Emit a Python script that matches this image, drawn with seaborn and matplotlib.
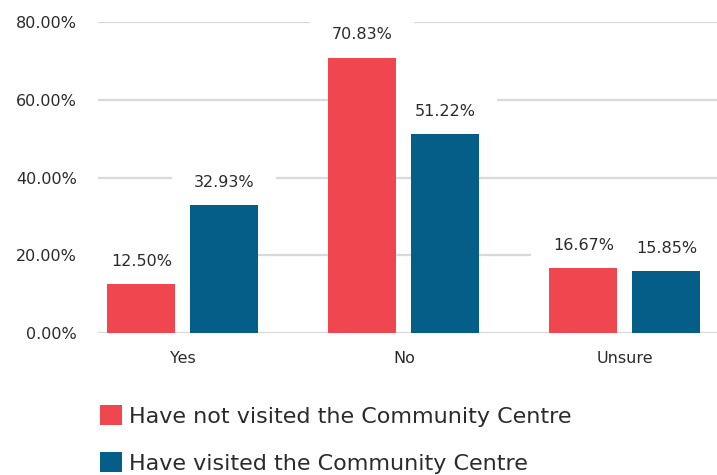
import matplotlib
matplotlib.use("Agg")
import matplotlib.pyplot as plt
import seaborn as sns
import pandas as pd
from matplotlib.ticker import FuncFormatter

categories = ["Yes", "No", "Unsure"]
series_names = ["Have not visited the Community Centre", "Have visited the Community Centre"]
not_visited = [12.50, 70.83, 16.67]
visited = [32.93, 51.22, 15.85]
y_ticks = [0, 20, 40, 60, 80]

colors = ["#EF4650", "#045E87"]
text_color = "#2b2b2b"
grid_color = "#d9d9d9"

df = pd.DataFrame({
    "category": categories * 2,
    "value": not_visited + visited,
    "series": [series_names[0]] * 3 + [series_names[1]] * 3,
})

sns.set_theme(style="white")
plt.rcParams["font.family"] = ["DejaVu Sans"]
plt.rcParams["text.color"] = text_color

fig = plt.figure(figsize=(7.17, 4.75), dpi=100)
ax = fig.add_axes([98 / 717, 142 / 475, 619 / 717, 311 / 475])

sns.barplot(data=df, x="category", y="value", hue="series", order=categories,
            hue_order=series_names, palette=colors, width=0.751, gap=0.18,
            saturation=1, linewidth=0, ax=ax)
for p in ax.patches:
    p.set_zorder(2)

ax.set_ylim(0, 80)
ax.set_xlim(-0.384, 2.417)
ax.set_yticks(y_ticks)
ax.yaxis.set_major_formatter(FuncFormatter(lambda v, p: f"{v:.2f}%"))
ax.set_xlabel("")
ax.set_ylabel("")
ax.set_axisbelow(True)
ax.grid(axis="y", color=grid_color, linewidth=1.6)
ax.grid(axis="x", visible=False)
for s in ax.spines.values():
    s.set_visible(False)
ax.tick_params(axis="y", length=0, pad=15, labelsize=11.5, labelcolor=text_color)
ax.tick_params(axis="x", length=0, pad=13, labelsize=11.5, labelcolor=text_color)

for cont in ax.containers:
    labels = ax.bar_label(cont, fmt="{:.2f}%", padding=11, fontsize=11.5, color=text_color,
                          bbox=dict(boxstyle="square,pad=1.35", facecolor="white", edgecolor="none"))
    for t in labels:
        t.set_zorder(1.5)

sns.move_legend(ax, loc="upper left", bbox_to_anchor=(100 / 717, 1 - 405 / 475),
                bbox_transform=fig.transFigure, frameon=False, title=None, ncol=1,
                fontsize=16, handlelength=1.0, handleheight=1.0,
                handletextpad=0.3, labelspacing=1.15, borderpad=0, borderaxespad=0)

fig.savefig("out.png", dpi=100)
